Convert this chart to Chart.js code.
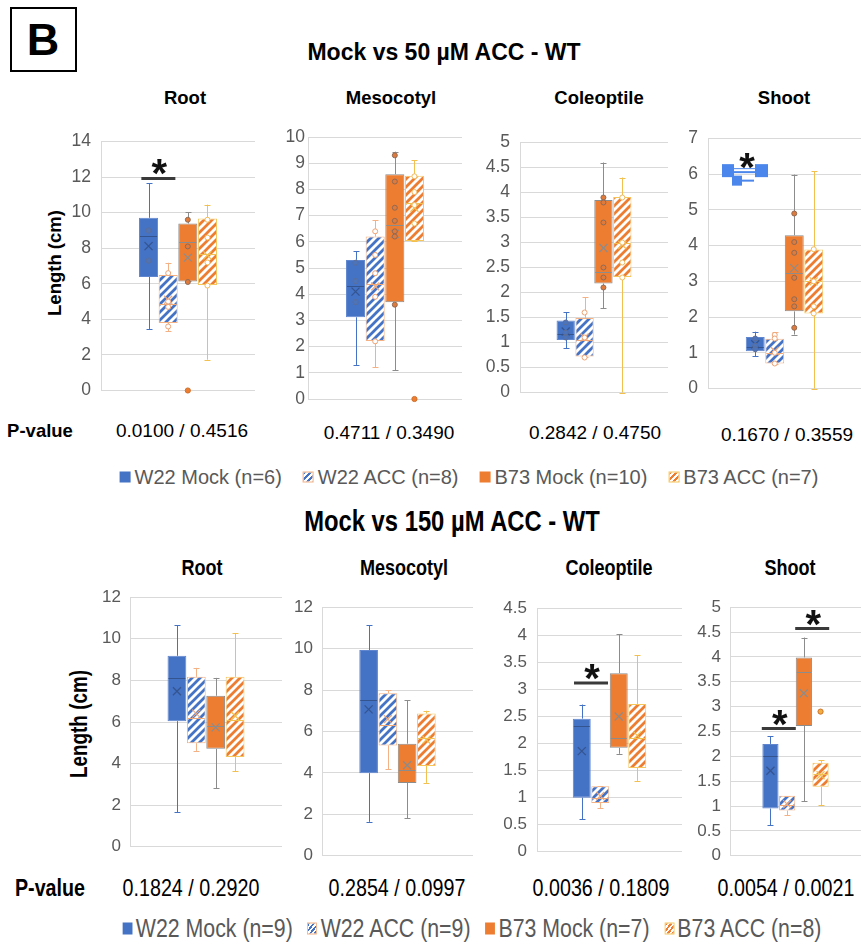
<!DOCTYPE html>
<html>
<head>
<meta charset="utf-8">
<script src="https://cdn.jsdelivr.net/npm/chart.js@4.4.1/dist/chart.umd.min.js"></script>
<style>
  html, body { margin:0; padding:0; background:#fff; }
  body { position:relative; width:861px; height:949px; overflow:hidden; font-family:"Liberation Sans", Arial, sans-serif; }
  .txt { position:absolute; white-space:nowrap; line-height:1; }
  .caja { position:absolute; left:10px; top:7px; width:63px; height:61px; border:2px solid #000; }
</style>
</head>
<body>
<div class="caja"></div>
<script>
// ---- datos ----
const organos = ['Root', 'Mesocotyl', 'Coleoptile', 'Shoot'];
const grupos = ['W22 Mock', 'W22 ACC', 'B73 Mock', 'B73 ACC'];
const leyenda50 = ['W22 Mock (n=6)', 'W22 ACC (n=8)', 'B73 Mock (n=10)', 'B73 ACC (n=7)'];
const leyenda150 = ['W22 Mock (n=9)', 'W22 ACC (n=9)', 'B73 Mock (n=7)', 'B73 ACC (n=8)'];
const pvalor50 = ['0.0100 / 0.4516', '0.4711 / 0.3490', '0.2842 / 0.4750', '0.1670 / 0.3559'];
const pvalor150 = ['0.1824 / 0.2920', '0.2854 / 0.0997', '0.0036 / 0.1809', '0.0054 / 0.0021'];
const ymax50 = [14, 10, 5, 7];
const paso50 = [2, 1, 0.5, 1];
const ymax150 = [12, 12, 4.5, 5];
const paso150 = [2, 2, 0.5, 0.5];

// [organo][grupo]
const min50  = [[3.46, 3.33, 6.13, 1.73], [1.30, 1.21, 1.10, 6.03], [0.89, 0.72, 1.69, 0.00], [0.90, 0.70, 1.51, 0.00]];
const q1_50  = [[6.38, 3.79, 6.13, 5.93], [3.12, 2.21, 3.69, 6.03], [1.05, 0.72, 2.18, 2.31], [1.04, 0.70, 2.16, 2.10]];
const med50  = [[8.66, 4.85, 8.36, 7.68], [4.33, 4.39, 6.64, 7.50], [1.18, 1.05, 2.41, 3.00], [1.17, 1.00, 3.24, 3.02]];
const q3_50  = [[9.71, 6.50, 9.39, 9.67], [5.31, 6.20, 8.58, 8.52], [1.44, 1.49, 3.85, 3.91], [1.44, 1.39, 4.29, 3.89]];
const max50  = [[11.65, 7.18, 10.03, 10.45], [5.64, 6.83, 9.44, 9.12], [1.61, 1.91, 4.60, 4.30], [1.59, 1.57, 5.99, 6.08]];
const prom50 = [[8.12, 5.10, 7.47, 7.60], [4.10, 4.30, 6.30, 7.30], [1.22, 1.10, 2.89, 2.95], [1.24, 1.05, 3.37, 3.00]];
const puntos50 = [
	[[9.0, 7.3], [6.6, 5.0, 4.7, 3.6], [9.6, 8.1, 6.1], [9.6, 8.6, 7.2, 5.9]],
	[[5.2, 4.5, 3.7], [6.4, 5.5, 4.8, 3.9, 2.2], [9.3, 8.3, 7.3, 6.8, 6.4, 6.2, 3.6], [8.5, 7.9, 7.4, 6.7]],
	[[1.4, 1.2, 1.1], [1.6, 1.1, 0.7], [3.9, 3.8, 3.4, 2.5, 2.3, 2.1], [3.9, 3.0, 2.6, 2.3]],
	[[1.4, 1.2, 1.1], [1.5, 1.4, 1.0, 0.7], [4.9, 4.1, 3.8, 3.1, 2.5, 2.3, 1.7], [3.9, 3.0, 2.3, 2.1]]
];
const atipicos50 = [[[], [], [0], []], [[], [], [], [0]], [[], [], [], []], [[], [], [], []]];
const signif50 = [
	{organo:0, a:0, b:1, y:11.92, tipo:'linea'},
	{organo:3, a:0, b:1, y:6.1, tipo:'seleccion'}
];

const min150  = [[1.66, 4.61, 2.81, 3.63], [1.64, 4.18, 1.82, 3.52], [0.60, 0.80, 1.81, 1.31], [0.61, 0.82, 1.10, 1.02]];
const q1_150  = [[6.04, 4.98, 4.71, 4.32], [3.99, 5.33, 3.52, 4.34], [1.00, 0.90, 1.92, 1.55], [0.95, 0.91, 2.61, 1.39]];
const med150  = [[8.12, 6.18, 5.83, 6.10], [7.54, 6.30, 4.13, 5.70], [2.32, 1.00, 2.11, 2.10], [2.00, 1.02, 3.69, 1.65]];
const q3_150  = [[9.18, 8.17, 7.26, 8.17], [9.93, 7.85, 5.41, 6.87], [2.46, 1.21, 3.30, 2.73], [2.25, 1.21, 3.99, 1.87]];
const max150  = [[10.66, 8.60, 8.12, 10.28], [11.12, 8.00, 7.51, 7.00], [2.72, 1.21, 4.02, 3.63], [2.40, 1.21, 4.39, 1.92]];
const prom150 = [[7.48, 6.40, 5.74, 6.30], [7.07, 6.60, 4.37, 5.60], [1.86, 1.03, 2.50, 2.15], [1.71, 1.04, 3.27, 1.62]];
const puntos150 = [[[], [], [], []], [[], [], [], []], [[], [], [], []], [[], [], [], []]];
const atipicos150 = [[[], [], [], []], [[], [], [], []], [[], [], [], []], [[], [], [], [2.9]]];
const signif150 = [
	{organo:2, a:0, b:1, y:3.12, tipo:'linea'},
	{organo:3, a:0, b:1, y:2.56, tipo:'linea'},
	{organo:3, a:2, b:3, y:4.57, tipo:'linea'}
];

// ---- estilos ----
const AZUL = '#4472C4', NARANJA = '#ED7D31';
const borde_caja = ['#5f86cf', '#F4B183', '#8c8c8c', '#F6C65B'];
const color_bigote = ['#4472C4', '#F4B183', '#8c8c8c', '#F2C04E'];
const color_mediana = ['#34548f', '#F0A878', '#8c8c8c', '#F2C04E'];
const color_punto = ['#5d6f99', '#eea274', '#8f6a55', '#f0bb5c'];

// verificamos si existe la fuente angosta
const sonda = document.createElement('canvas').getContext('2d');
function ancho(f){ sonda.font = f; return sonda.measureText('Mock vs 150 ACC Length').width; }
const hay_angosta = ancho('20px "Liberation Sans Narrow", monospace') !== ancho('20px monospace');
const SANS = '"Liberation Sans", Arial, sans-serif';
const ANGOSTA = hay_angosta ? '"Liberation Sans Narrow", "Arial Narrow", sans-serif' : SANS;
const apriete = hay_angosta ? 1 : 0.82;

function rayas(color){
	const s = 8;
	const c = document.createElement('canvas');
	c.width = s; c.height = s;
	const g = c.getContext('2d');
	g.fillStyle = '#fff'; g.fillRect(0, 0, s, s);
	g.strokeStyle = color; g.lineWidth = 2.8; g.lineCap = 'square';
	g.beginPath();
	g.moveTo(0, s); g.lineTo(s, 0);
	g.moveTo(-s/2, s/2); g.lineTo(s/2, -s/2);
	g.moveTo(s/2, s*1.5); g.lineTo(s*1.5, s/2);
	g.stroke();
	return g.createPattern(c, 'repeat');
}
const rellenos = [AZUL, rayas(AZUL), NARANJA, rayas(NARANJA)];

function texto(t, x, y, op){
	const d = document.createElement('div');
	d.className = 'txt';
	d.textContent = t;
	const sx = op.angosta ? apriete : 1;
	d.style.left = x + 'px';
	d.style.top = y + 'px';
	d.style.font = (op.bold ? 'bold ' : '') + op.size + 'px ' + (op.angosta ? ANGOSTA : SANS);
	d.style.color = op.color || '#000';
	d.style.transform = `translate(-50%,-50%) rotate(${op.rot || 0}deg) scaleX(${sx})`;
	document.body.appendChild(d);
	return d;
}

function leyenda(etiquetas, cx, cy, size, angosta){
	const d = document.createElement('div');
	d.className = 'txt';
	d.style.cssText += `left:${cx}px;top:${cy}px;display:flex;align-items:center;gap:${angosta ? 18 : 21}px;` +
		`transform:translate(-50%,-50%) scaleX(${angosta ? apriete : 1});color:#595959;font:${size}px ${angosta ? ANGOSTA : SANS};`;
	etiquetas.forEach((et, i) => {
		const item = document.createElement('span');
		item.style.cssText = 'display:flex;align-items:center;';
		const m = document.createElement('span');
		const lado = angosta ? 12 : 11;
		let fondo = i % 2 == 0 ? (i == 0 ? AZUL : NARANJA)
			: `repeating-linear-gradient(135deg, ${i == 1 ? AZUL : NARANJA} 0 2px, #fff 2px 4px)`;
		m.style.cssText = `display:inline-block;width:${lado}px;height:${lado}px;margin-right:4px;background:${fondo};box-sizing:border-box;` +
			(i % 2 ? `border:1px solid ${borde_caja[i]};` : '');
		item.appendChild(m);
		item.appendChild(document.createTextNode(et));
		d.appendChild(item);
	});
	document.body.appendChild(d);
}

// plugin que dibuja bigotes, mediana, media, puntos y marcas de significancia
function plugin_caja(fila, p){
	return {
		id: 'caja_' + p,
		afterDatasetsDraw(chart){
			const ctx = chart.ctx;
			const ys = chart.scales.y;
			const py = v => ys.getPixelForValue(v);
			const barras = grupos.map((g, i) => chart.getDatasetMeta(i).data[0]);
			ctx.save();
			barras.forEach((bar, i) => {
				const x = Math.round(bar.x) + 0.5;
				const w = bar.width;
				ctx.lineWidth = 1;
				ctx.strokeStyle = color_bigote[i];
				ctx.beginPath();
				ctx.moveTo(x, py(fila.q3[p][i])); ctx.lineTo(x, py(fila.max[p][i]));
				ctx.moveTo(x - 3, Math.round(py(fila.max[p][i])) + 0.5); ctx.lineTo(x + 3, Math.round(py(fila.max[p][i])) + 0.5);
				ctx.moveTo(x, py(fila.q1[p][i])); ctx.lineTo(x, py(fila.min[p][i]));
				ctx.moveTo(x - 3, Math.round(py(fila.min[p][i])) + 0.5); ctx.lineTo(x + 3, Math.round(py(fila.min[p][i])) + 0.5);
				ctx.stroke();
				// mediana
				ctx.strokeStyle = color_mediana[i];
				ctx.beginPath();
				const ym = Math.round(py(fila.med[p][i])) + 0.5;
				ctx.moveTo(bar.x - w/2 + 1, ym); ctx.lineTo(bar.x + w/2 - 1, ym);
				ctx.stroke();
				// media (X)
				const yx = py(fila.prom[p][i]);
				ctx.lineWidth = 1.2;
				ctx.beginPath();
				ctx.moveTo(bar.x - 4, yx - 4); ctx.lineTo(bar.x + 4, yx + 4);
				ctx.moveTo(bar.x + 4, yx - 4); ctx.lineTo(bar.x - 4, yx + 4);
				ctx.stroke();
				// puntos internos
				ctx.lineWidth = 1;
				fila.puntos[p][i].forEach(v => {
					ctx.beginPath();
					ctx.arc(bar.x, py(v), 2.5, 0, Math.PI*2);
					ctx.fillStyle = i % 2 ? '#fff' : (i == 0 ? '#4d73b8' : '#e07a3a');
					ctx.fill();
					ctx.strokeStyle = color_punto[i];
					ctx.stroke();
				});
				fila.atipicos[p][i].forEach(v => {
					ctx.beginPath();
					ctx.arc(bar.x, py(v), 2.6, 0, Math.PI*2);
					ctx.fillStyle = i == 3 && fila.nombre == '150' ? '#f0b040' : NARANJA;
					ctx.fill();
					ctx.strokeStyle = '#d0702c';
					ctx.stroke();
				});
			});
			// significancia
			fila.signif.filter(s => s.organo == p).forEach(s => {
				const medio = (barras[s.a].x + barras[s.b].x) / 2;
				const yy = py(s.y);
				ctx.fillStyle = '#111';
				ctx.font = 'bold 40px ' + SANS;
				ctx.textAlign = 'center';
				ctx.textBaseline = 'alphabetic';
				if (s.tipo == 'linea') {
					ctx.strokeStyle = '#3a3a3a';
					ctx.lineWidth = 3;
					ctx.beginPath();
					ctx.moveTo(medio - 17, yy); ctx.lineTo(medio + 17, yy);
					ctx.stroke();
					ctx.fillStyle = '#111';
					ctx.fillText('*', medio + 1, yy - 14 + 23);
				} else {
					const cx = medio - 20;
					const azul = '#4a86ec';
					ctx.fillStyle = azul;
					ctx.fillRect(cx - 23, yy - 6.5, 12, 13);
					ctx.fillRect(cx + 10, yy - 6.5, 13, 13);
					ctx.fillRect(cx - 13, yy + 5, 10, 10);
					ctx.strokeStyle = azul;
					ctx.lineWidth = 5;
					ctx.beginPath(); ctx.moveTo(cx - 11, yy); ctx.lineTo(cx + 10, yy); ctx.stroke();
					ctx.strokeStyle = '#fff';
					ctx.lineWidth = 2;
					ctx.beginPath(); ctx.moveTo(cx - 11, yy - 0.5); ctx.lineTo(cx + 10, yy - 0.5); ctx.stroke();
					ctx.strokeStyle = azul;
					ctx.lineWidth = 2;
					ctx.beginPath(); ctx.moveTo(cx - 3, yy + 10); ctx.lineTo(cx + 9, yy + 10); ctx.stroke();
					ctx.fillStyle = '#111';
					ctx.fillText('*', cx + 2, yy - 13 + 23);
				}
			});
			ctx.restore();
		}
	};
}

function construir_fila(fila){
	fila.rects.forEach((r, p) => {
		const eje = 46, pt = 14, pb = 14;
		const cv = document.createElement('canvas');
		cv.width = r.R - r.L + eje;
		cv.height = r.B - r.T + pt + pb;
		cv.style.position = 'absolute';
		cv.style.left = (r.L - eje) + 'px';
		cv.style.top = (r.T - pt) + 'px';
		document.body.appendChild(cv);
		new Chart(cv, {
			type: 'bar',
			data: {
				labels: [organos[p]],
				datasets: grupos.map((g, i) => ({
					label: g,
					data: [[fila.q1[p][i], fila.q3[p][i]]],
					backgroundColor: rellenos[i],
					borderColor: borde_caja[i],
					borderWidth: 1,
					borderSkipped: false,
					barPercentage: 0.97,
					categoryPercentage: 0.51
				}))
			},
			options: {
				responsive: false,
				animation: false,
				events: [],
				layout: { padding: { top: pt, bottom: pb, left: 0, right: 0 } },
				plugins: { legend: { display: false }, tooltip: { enabled: false } },
				scales: {
					x: { display: false },
					y: {
						min: 0,
						max: fila.ymax[p],
						afterFit(s){ s.width = eje; },
						ticks: {
							stepSize: fila.paso[p],
							padding: fila.pad[p],
							color: '#595959',
							callback: v => String(v),
							font: { family: fila.angosta ? ANGOSTA : SANS, size: fila.angosta ? (hay_angosta ? 21 : 17) : 17.5 }
						},
						grid: { color: '#d9d9d9', drawTicks: false },
						border: { color: '#d9d9d9' }
					}
				}
			},
			plugins: [plugin_caja(fila, p)]
		});
	});
}

// ---- textos ----
texto('B', 43, 40, {size:45, bold:true});
texto('Mock vs 50 µM ACC - WT', 444, 52, {size:23, bold:true});
texto('Mock vs 150 µM ACC - WT', 452, 521, {size:29, bold:true, angosta:true});

const x_titulo50 = [185, 391, 599, 784];
const x_titulo150 = [202, 404, 609, 790];
organos.forEach((o, i) => {
	texto(o, x_titulo50[i], 98, {size:18.5, bold:true});
	texto(o, x_titulo150[i], 568, {size:22, bold:true, angosta:true});
});
texto('Length (cm)', 55, 263, {size:18.5, bold:true, rot:-90});
texto('Length (cm)', 79, 724, {size:23, bold:true, angosta:true, rot:-90});

texto('P-value', 40, 431, {size:18.5, bold:true});
const x_p50 = [182, 389, 595, 787], y_p50 = [431, 433, 433, 435];
pvalor50.forEach((t, i) => texto(t, x_p50[i], y_p50[i], {size:19}));
texto('P-value', 50, 888, {size:24, bold:true, angosta:true});
const x_p150 = [191, 397, 601, 786];
pvalor150.forEach((t, i) => texto(t, x_p150[i], 888, {size:24, angosta:true}));

leyenda(leyenda50, 469, 477, 20, false);
leyenda(leyenda150, 472, 928, 26, true);

// ---- graficos ----
construir_fila({
	nombre: '50', angosta: false,
	rects: [{L:101,T:135,R:255,B:397}, {L:308,T:137,R:462,B:399}, {L:520,T:136,R:668,B:399}, {L:708,T:132,R:861,B:395}],
	pad: [10, 3, 10, 10],
	ymax: ymax50, paso: paso50,
	min: min50, q1: q1_50, med: med50, q3: q3_50, max: max50, prom: prom50,
	puntos: puntos50, atipicos: atipicos50, signif: signif50
});
construir_fila({
	nombre: '150', angosta: true,
	rects: [{L:130,T:592,R:282,B:852}, {L:322,T:602,R:473,B:861}, {L:537,T:602,R:682,B:858}, {L:730,T:602,R:861,B:861}],
	pad: [9, 9, 10, 9],
	ymax: ymax150, paso: paso150,
	min: min150, q1: q1_150, med: med150, q3: q3_150, max: max150, prom: prom150,
	puntos: puntos150, atipicos: atipicos150, signif: signif150
});
</script>
</body>
</html>
